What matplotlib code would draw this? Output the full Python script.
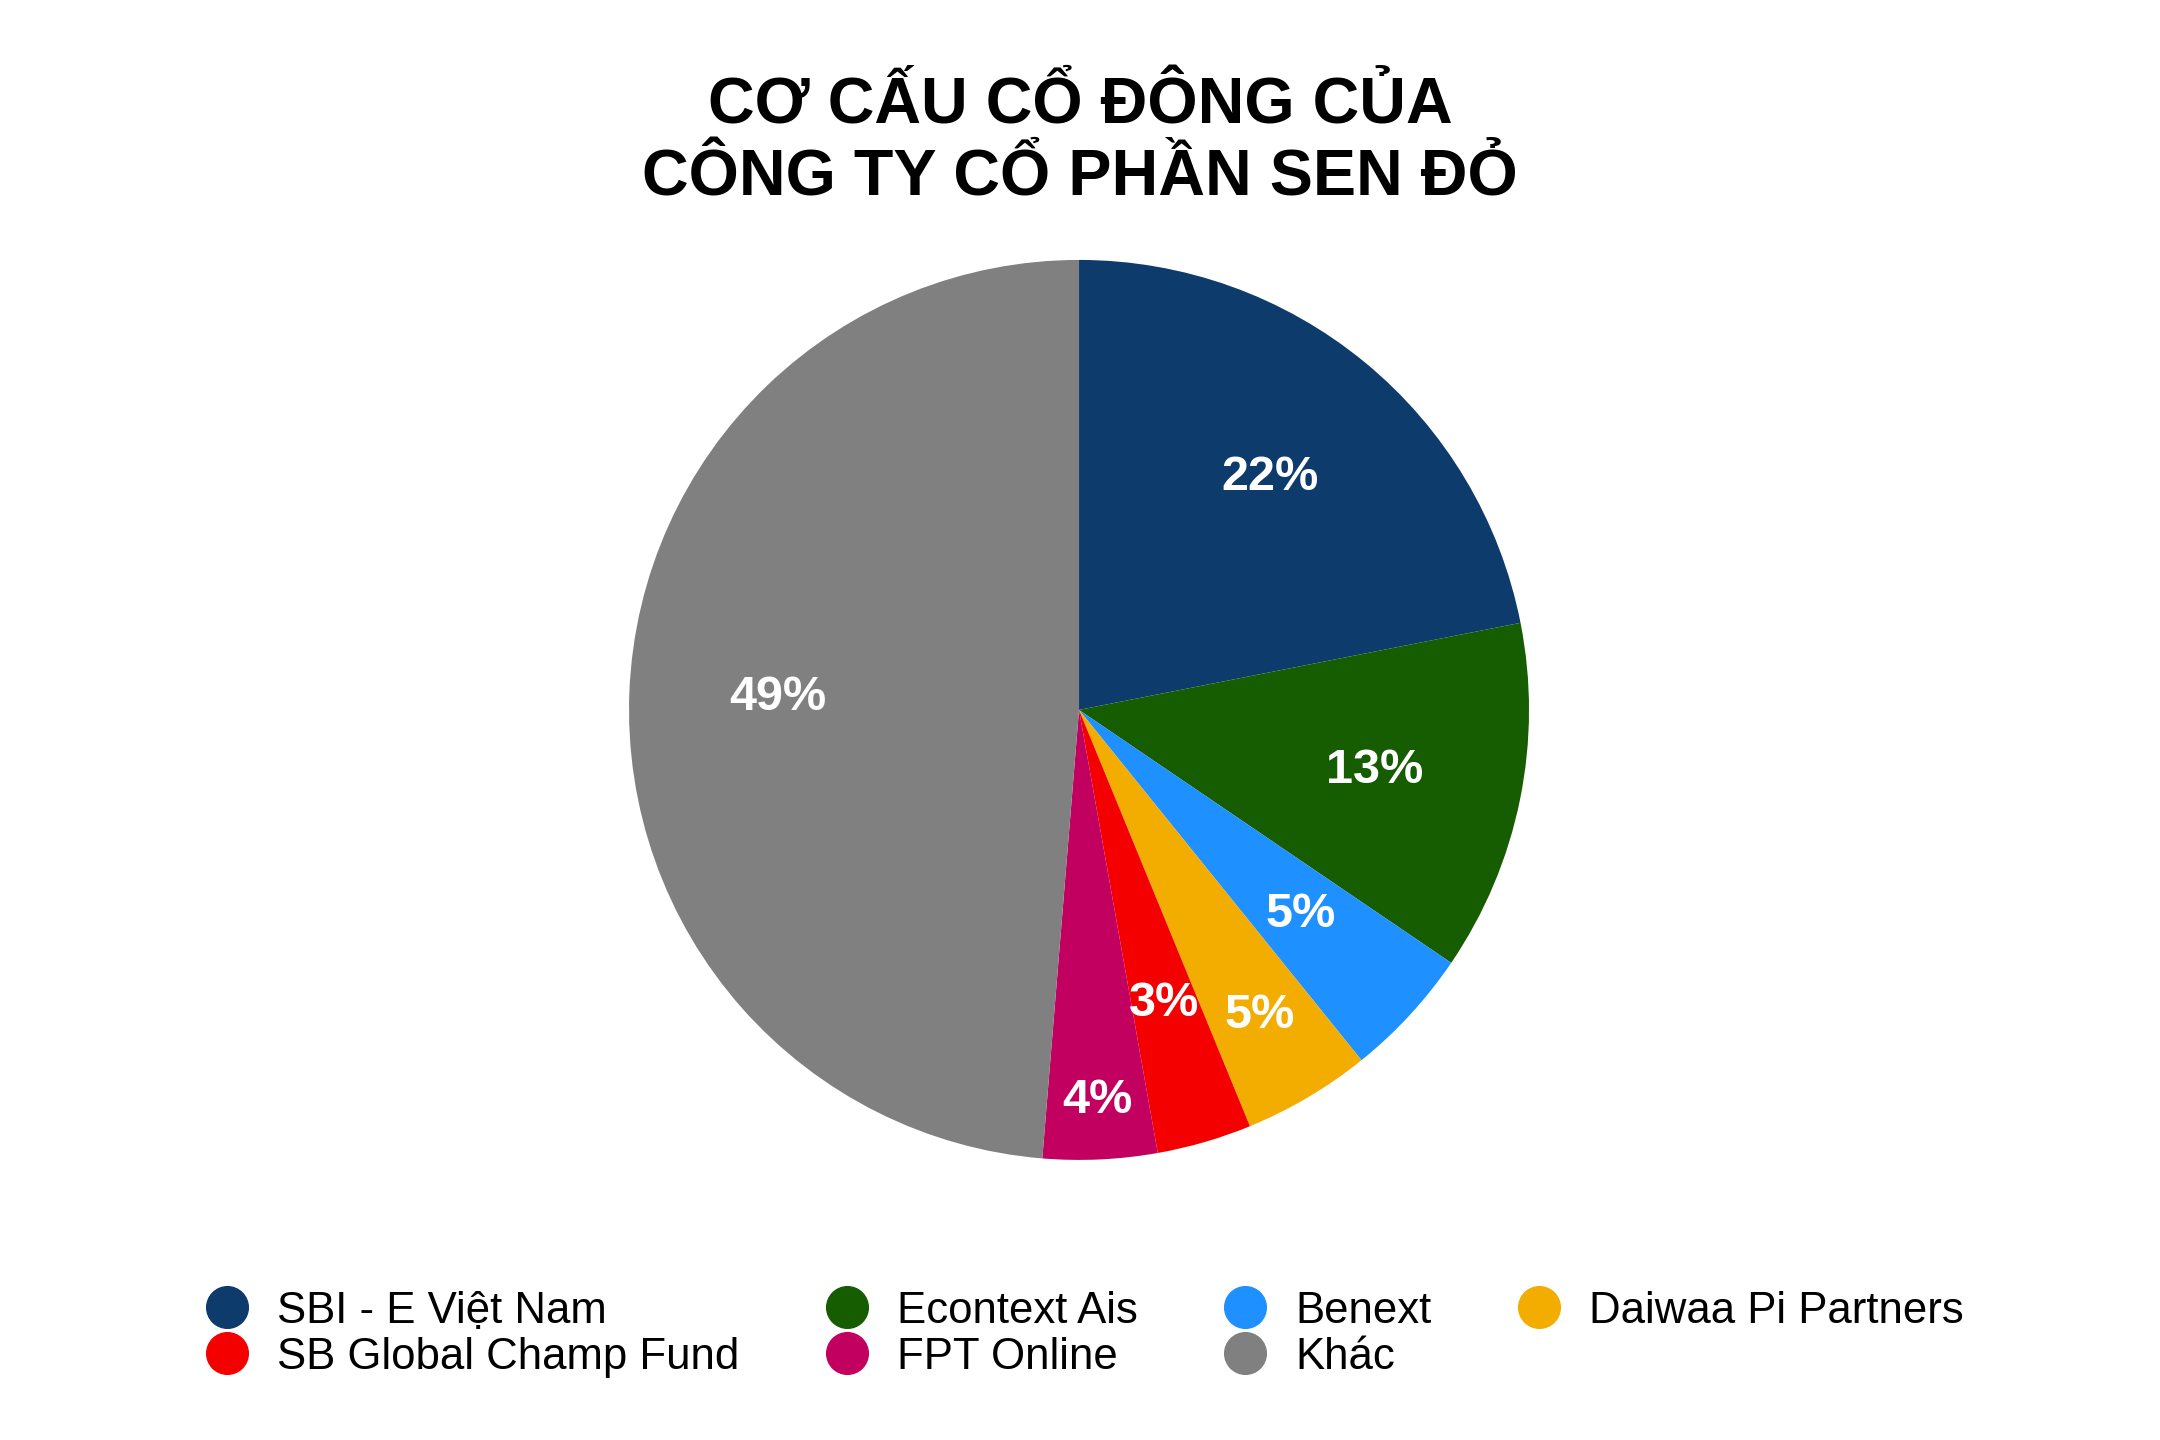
import matplotlib
matplotlib.use("Agg")
import matplotlib.pyplot as plt
from matplotlib.lines import Line2D
import numpy as np

plt.rcParams['font.family'] = ['Liberation Sans', 'DejaVu Sans']

labels = ['SBI - E Việt Nam', 'Econtext Ais', 'Benext', 'Daiwaa Pi Partners',
          'SB Global Champ Fund', 'FPT Online', 'Khác']
shares = [21.9, 12.6, 4.7, 4.6, 3.4, 4.1, 48.7]
colors = ['#0c3b6c', '#165c00', '#1e90ff', '#f2ad00', '#f50000', '#c20060', '#808080']
label_r = [0.67, 0.67, 0.67, 0.79, 0.68, 0.87, 0.67]

fig = plt.figure(figsize=(21.6, 14.4), dpi=100)
ax = fig.add_axes([0.4995 - 0.2083, 0.507 - 0.3125, 0.4167, 0.625])

wedges, _ = ax.pie(shares, colors=colors, startangle=90, counterclock=False,
                   wedgeprops=dict(linewidth=0))
ax.set_xlim(-1, 1)
ax.set_ylim(-1, 1)
ax.set_aspect('equal')

for w, s, r in zip(wedges, shares, label_r):
    ang = np.deg2rad((w.theta1 + w.theta2) / 2)
    ax.text(r * np.cos(ang), r * np.sin(ang), f'{round(s)}%',
            ha='center', va='center', color='white', fontsize=35, fontweight='bold')

fig.text(0.5, 0.901, 'CƠ CẤU CỔ ĐÔNG CỦA\nCÔNG TY CỔ PHẦN SEN ĐỎ',
         ha='center', va='center', fontsize=46.5, fontweight='bold', linespacing=1.25)

# legend is filled column by column, so reorder to read row by row
order = [0, 4, 1, 5, 2, 6, 3]
handles = [Line2D([], [], marker='o', linestyle='none', markersize=30,
                  markerfacecolor=colors[i], markeredgecolor=colors[i]) for i in order]
fig.legend(handles, [labels[i] for i in order], loc='center',
           bbox_to_anchor=(0.502, 0.0735), ncol=4,
           frameon=False, fontsize=31.5, handlelength=1.0, handletextpad=0.65,
           columnspacing=1.95, labelspacing=0.12)

fig.savefig('out.png', dpi=100, facecolor='white')
